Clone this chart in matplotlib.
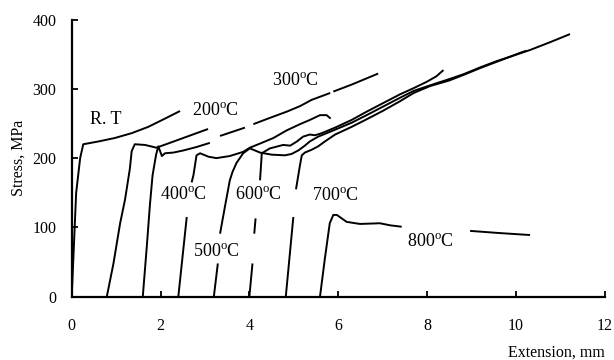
import matplotlib
matplotlib.use('Agg')
import numpy as np
import matplotlib.pyplot as plt

plt.rcParams['font.family'] = ['Liberation Serif', 'DejaVu Serif']
plt.rcParams['mathtext.fontset'] = 'custom'
plt.rcParams['mathtext.rm'] = 'Liberation Serif'

nan = np.nan

# stress-extension curves (NaN = break in the drawn line)
rt_x = [0, 0.10, 0.19, 0.26, 0.60, 0.97, 1.35, 1.72, 2.10, 2.44]
rt_y = [0, 150, 200, 220, 224, 229, 236, 245, 257, 268]

t200_x = [0.79, 0.94, 1.09, 1.20, 1.31, 1.35, 1.42, 1.65, 1.91, 1.95, 2.21, 2.51, 2.81, 3.07]
t200_y = [0, 48, 106, 140, 185, 210, 220, 219, 215, 216, 222, 229, 236, 242]

t300_x = [1.60, 1.69, 1.76, 1.82, 1.90, 1.95, 2.03, 2.10, 2.29, 2.51, 2.81, 3.11, nan,
          3.34, 3.62, 3.90, nan, 4.09, 4.46, 4.84, 5.14, 5.40, 5.82, nan, 5.89, 6.30, 6.90]
t300_y = [0, 72, 132, 175, 205, 217, 203, 207, 208, 211, 216, 222, nan,
          232, 238, 244, nan, 249, 258, 267, 275, 284, 294, nan, 296, 306, 322]

t400_x = [2.40, 2.59, nan, 2.70, 2.74, 2.81, 2.89, 3.08, 3.26, 3.56, 3.86, 4.01,
          4.24, 4.54, 4.84, 5.14, 5.36, 5.59, 5.74, 5.83]
t400_y = [0, 115, nan, 165, 175, 204, 207, 202, 200, 203, 209, 215,
          221, 229, 240, 249, 255, 262, 262, 257]

t500_x = [3.20, 3.29, nan, 3.34, 3.45, 3.56, 3.62, 3.71, 3.86, 4.01, 4.09, 4.24, 4.50,
          4.80, 4.95, 5.10, 5.25, 5.36, 5.55, 5.93, 6.30, 6.64, 7.00, 7.39, 7.70,
          8.07, 8.50, 8.82, 9.20, 9.57, 9.90, 10.10, 10.24]
t500_y = [0, 48, nan, 91, 130, 168, 180, 193, 207, 214, 212, 208, 205,
          204, 206, 211, 218, 224, 231, 241, 251, 262, 274, 287, 297,
          305, 314, 321, 331, 340, 347, 352, 355]

t600_x = [4.00, 4.07, nan, 4.11, 4.14, nan, 4.24, 4.28, 4.46, 4.76, 4.92, 5.07, 5.21,
          5.36, 5.48, 5.63, 5.93, 6.30, 6.64, 7.00, 7.39, 7.70, 7.99, 8.21, 8.37]
t600_y = [0, 48, nan, 91, 113, nan, 168, 207, 214, 219, 218, 224, 231,
          234, 233, 236, 244, 255, 267, 279, 292, 301, 310, 318, 327]

t700_x = [4.82, 4.99, nan, 5.05, 5.14, 5.18, 5.25, 5.40, 5.55, 5.70, 5.93, 6.30, 6.64,
          7.00, 7.39, 7.70, 8.07, 8.50, 8.82, 9.20, 9.57, 9.90, 10.32, 10.80, 11.22]
t700_y = [0, 115, nan, 155, 190, 204, 208, 212, 217, 224, 234, 245, 256,
          268, 282, 294, 304, 312, 320, 330, 339, 347, 356, 368, 379]

t800_x = [5.59, 5.70, 5.81, 5.89, 5.97, 6.19, 6.49, 6.94, 7.17, 7.43, nan, 8.97, 9.60, 10.32]
t800_y = [0, 55, 106, 118, 118, 108, 105, 106, 103, 101, nan, 95, 92, 89]

curves = [(rt_x, rt_y), (t200_x, t200_y), (t300_x, t300_y), (t400_x, t400_y),
          (t500_x, t500_y), (t600_x, t600_y), (t700_x, t700_y), (t800_x, t800_y)]

# curve labels and where they sit
label_text = ['R. T', '200$^{\\rm o}$C', '300$^{\\rm o}$C', '400$^{\\rm o}$C',
              '500$^{\\rm o}$C', '600$^{\\rm o}$C', '700$^{\\rm o}$C', '800$^{\\rm o}$C']
label_x = [0.77, 3.24, 5.03, 2.51, 3.26, 4.20, 5.93, 8.07]
label_y = [255, 267, 311, 146, 64, 146, 145, 78]

x_ticks = [0, 2, 4, 6, 8, 10, 12]
y_ticks = [0, 100, 200, 300, 400]

fig = plt.figure(figsize=(6.14, 3.6), dpi=100)
ax = fig.add_axes([0.1168, 0.1758, 0.868, 0.770])

for cx, cy in curves:
    ax.plot(cx, cy, color='black', lw=1.4, solid_capstyle='butt')

for t, lx, ly in zip(label_text, label_x, label_y):
    ax.text(lx, ly, t, ha='center', va='center', fontsize=13)

ax.set_xlim(0, 12)
ax.set_ylim(0, 400)
ax.set_xticks(x_ticks)
ax.set_yticks(y_ticks)
ax.spines['top'].set_visible(False)
ax.spines['right'].set_visible(False)
ax.spines['left'].set_linewidth(1.6)
ax.spines['bottom'].set_linewidth(1.6)
ax.tick_params(axis='both', direction='in', length=4, width=1.3, labelsize=11.5)
ax.tick_params(axis='x', pad=15)
ax.tick_params(axis='y', pad=11)

ax.set_ylabel('Stress, MPa', fontsize=11.5)
ax.yaxis.set_label_coords(-0.084, 0.5)
ax.set_xlabel('Extension, mm', fontsize=11.5, ha='right')
ax.xaxis.set_label_coords(1.0, -0.172)

fig.savefig('out.png', dpi=100)
